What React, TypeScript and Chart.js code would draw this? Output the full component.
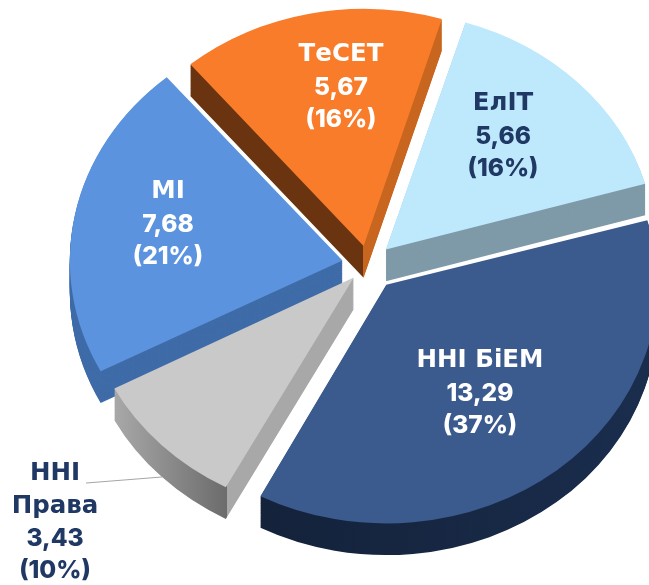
import React, { useEffect, useRef } from "react";
import { Chart, registerables } from "chart.js";

Chart.register(...registerables);

const categories = ["ЕлІТ", "ННІ БіЕМ", "ННІ Права", "МІ", "ТеСЕТ"];
const values = [5.66, 13.29, 3.43, 7.68, 5.67];
const percents = ["16%", "37%", "10%", "21%", "16%"];
const labelLines = [["ЕлІТ"], ["ННІ БіЕМ"], ["ННІ", "Права"], ["МІ"], ["ТеСЕТ"]];
const topColors = ["#BEE8FC", "#3B5A8D", "#C9C9C9", "#5B93DE", "#F97C2B"];
const textColors = ["#1F3864", "#FFFFFF", "#1F3864", "#FFFFFF", "#FFFFFF"];
const explode = [100, 116, 80, 104, 88];
const radiusTweak = [0, -3, -4, 6, 0];
const labelAnchors = [
  [503, 104],
  [480, 361],
  [55, 474],
  [168, 192],
  [341, 55],
];
const drawOrder = [4, 0, 3, 2, 1];

const SQUASH = 0.88;
const DEPTH = 36;
const LINE_H = 32.3;

function wallFill(ctx: CanvasRenderingContext2D, i: number, arc: any) {
  const mid = (arc.startAngle + arc.endAngle) / 2;
  const dx = (Math.cos(mid) * (arc.options.offset || 0)) / 4;
  const x0 = 0;
  const x1 = 800;
  const g = ctx.createLinearGradient(x0 - dx, 0, x1 - dx, 0);
  const p = (x: number) => (x - x0) / (x1 - x0);
  if (i === 0) return "#7F9AA8";
  if (i === 1) {
    g.addColorStop(p(258), "#14223A");
    g.addColorStop(p(649), "#1A2D4D");
    return g;
  }
  if (i === 2) {
    g.addColorStop(p(113), "#A9A9A9");
    g.addColorStop(p(226.5), "#6C6C6C");
    g.addColorStop(p(227), "#A8A8A8");
    g.addColorStop(1, "#A8A8A8");
    return g;
  }
  if (i === 3) return "#3F6CA8";
  g.addColorStop(p(189), "#6B3410");
  g.addColorStop(p(362.5), "#6B3410");
  g.addColorStop(p(363), "#C8661F");
  g.addColorStop(1, "#C8661F");
  return g;
}

const pie3d = {
  id: "pie3d",
  beforeDatasetDraw(chart: any) {
    const ctx: CanvasRenderingContext2D = chart.ctx;
    const arcs = chart.getDatasetMeta(0).data;
    const cx = arcs[0].x;
    const cy = arcs[0].y;
    ctx.save();
    ctx.translate(cx, cy);
    ctx.scale(1, SQUASH);
    ctx.translate(-cx, -cy);
    for (const i of drawOrder) {
      const arc = arcs[i];
      const saved = arc.options;
      const savedRadius = arc.outerRadius;
      arc.outerRadius = savedRadius + radiusTweak[i];
      arc.options = { ...saved, backgroundColor: wallFill(ctx, i, arc), borderWidth: 0 };
      for (let k = DEPTH; k >= 1; k--) {
        ctx.save();
        ctx.translate(0, k);
        arc.draw(ctx);
        ctx.restore();
      }
      arc.options = { ...saved, borderWidth: 0 };
      arc.draw(ctx);
      arc.options = saved;
      arc.outerRadius = savedRadius;
    }
    ctx.restore();
    return false;
  },
  afterDraw(chart: any) {
    const ctx: CanvasRenderingContext2D = chart.ctx;
    ctx.save();
    ctx.strokeStyle = "#A6A6A6";
    ctx.lineWidth = 1.2;
    ctx.beginPath();
    ctx.moveTo(86, 483);
    ctx.lineTo(162, 477);
    ctx.stroke();
    ctx.textAlign = "center";
    ctx.textBaseline = "middle";
    categories.forEach((_, i) => {
      const [ax, ay] = labelAnchors[i];
      ctx.fillStyle = textColors[i];
      ctx.font = 'bold 24.5px "DejaVu Sans", sans-serif';
      labelLines[i].forEach((t, n) => ctx.fillText(t, ax, ay + n * LINE_H));
      const start = labelLines[i].length;
      ctx.font = '800 24.5px Inter, "Open Sans", sans-serif';
      ctx.fillText(String(values[i]).replace(".", ","), ax, ay + start * LINE_H);
      ctx.fillText(`(${percents[i]})`, ax, ay + (start + 1) * LINE_H);
    });
    ctx.restore();
  },
};

export default function App() {
  const ref = useRef<HTMLCanvasElement>(null);
  useEffect(() => {
    document.body.style.margin = "0";
    document.body.style.background = "#fff";
    const chart = new Chart(ref.current as HTMLCanvasElement, {
      type: "pie",
      data: {
        labels: categories,
        datasets: [
          {
            data: values,
            backgroundColor: topColors,
            borderWidth: 0,
            offset: explode,
          },
        ],
      },
      options: {
        responsive: false,
        animation: false,
        rotation: 17,
        radius: 266,
        layout: { padding: { left: 87, right: 0, top: 0, bottom: 55 } },
        plugins: { legend: { display: false }, tooltip: { enabled: false } },
      },
      plugins: [pie3d],
    } as any);
    return () => chart.destroy();
  }, []);
  return <canvas ref={ref} width={649} height={585} style={{ display: "block" }} />;
}
